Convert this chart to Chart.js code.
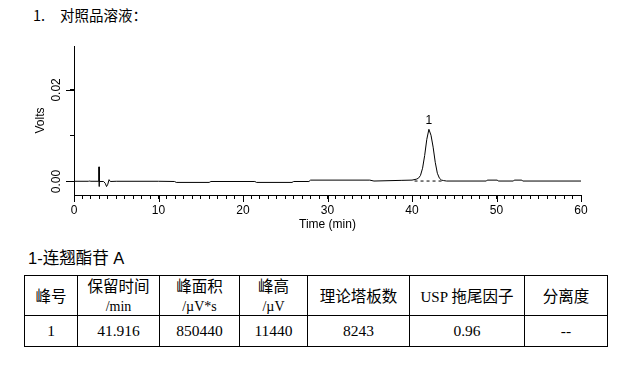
<!DOCTYPE html>
<html>
<head>
<meta charset="utf-8">
<script src="https://cdn.jsdelivr.net/npm/chart.js@4/dist/chart.umd.min.js"></script>
<style>
  body { margin: 0; background: #fff; width: 619px; height: 365px; position: relative; overflow: hidden; font-family: "Liberation Sans", Arial, sans-serif; color: #000; }
  #chart { position: absolute; left: 0; top: 0; }
  .head { position: absolute; top: 6px; font-size: 14.5px; font-family: "Noto Sans CJK SC", sans-serif; line-height: 18px; }
  #sub { position: absolute; left: 28px; top: 247px; font-size: 16.5px; line-height: 20px; }
  #sub .cjk { font-family: "Noto Sans CJK SC", sans-serif; }
  table { position: absolute; left: 24px; top: 275px; border-collapse: collapse; table-layout: fixed; }
  td { border: 1px solid #000; padding: 0; text-align: center; vertical-align: middle; }
  tr.hd td { height: 38px; font-family: "Noto Sans CJK SC", sans-serif; font-size: 15.5px; line-height: 19px; }
  tr.hd td .u { font-family: "Liberation Serif", "Times New Roman", serif; font-size: 14px; line-height: 17px; }
  tr.dt td { height: 30px; font-family: "Liberation Serif", "Times New Roman", serif; font-size: 15.5px; }
</style>
</head>
<body>
<div class="head" style="left:33px;">1.</div>
<div class="head" style="left:60px;">对照品溶液：</div>
<canvas id="chart" width="619" height="240"></canvas>
<div id="sub">1-<span class="cjk">连翘酯苷</span> A</div>
<table>
  <colgroup>
    <col style="width:53px"><col style="width:82px"><col style="width:80px"><col style="width:68px">
    <col style="width:102px"><col style="width:115px"><col style="width:83px">
  </colgroup>
  <tr class="hd">
    <td>峰号</td>
    <td>保留时间<br><span class="u">/min</span></td>
    <td>峰面积<br><span class="u">/µV*s</span></td>
    <td>峰高<br><span class="u">/µV</span></td>
    <td>理论塔板数</td>
    <td><span class="u" style="font-size:15px">USP</span> 拖尾因子</td>
    <td>分离度</td>
  </tr>
  <tr class="dt">
    <td>1</td><td>41.916</td><td>850440</td><td>11440</td><td>8243</td><td>0.96</td><td>--</td>
  </tr>
</table>
<script>
// chromatogram trace (min, volts)
const times = [0, 1.7, 1.8, 2.0, 2.9, 2.95, 2.96, 2.97, 3.0, 3.5, 3.7, 3.85, 4.0, 4.15, 4.3, 5, 10, 11.9, 12.1, 16, 16.2,
  21.4, 21.6, 25.8, 26, 27.8, 28, 35, 35.5, 38.8, 40.0, 40.5, 40.75, 41.0, 41.25, 41.5, 41.75, 42.0, 42.25, 42.5,
  42.75, 43.0, 43.25, 43.5, 43.75, 44.1, 48.8, 48.9, 50.1, 50.2, 52, 52.1, 53, 53.1, 60];
const volts = [0.00005, 0.00005, 0.0001, 0.00005, 0.00005, 0.0001, 0.0032, -0.0011, 0.0, 0.0, -0.0004, -0.0011, -0.0006, 0.0004, 0.0, 0.00005, 0.00005, 0.0, -0.0002, -0.0002, 0.0,
  0.0, -0.0002, -0.0002, 0.0, 0.0, 0.0003, 0.0003, 0.0001, 0.00025, 0.0003, 0.0005, 0.0007, 0.0013, 0.0029, 0.0057, 0.0092, 0.0114, 0.0101, 0.0075,
  0.0042, 0.0018, 0.0007, 0.0003, 0.0002, 0.0001, 0.0001, 0.0003, 0.0003, 0.0001, 0.0001, 0.0003, 0.0003, 0.0001, 0.0001];

// dashed integration baseline under peak 1
const baseTimes = [40.3, 43.7];
const baseVolts = [0.0001, 0.0001];

// peak annotation
const peakNames = ['1'];
const peakTimes = [42.0];
const peakVolts = [0.0114];

const xMin = 0, xMax = 60;
const yMin = -0.00295, yMax = 0.0296;
const yTickValues = [0, 0.01, 0.02];
const yLabelValues = [0, 0.02];
const yLabels = ['0.00', '0.02'];

const FONT = 'Liberation Sans';

// draws rotated y labels, longer major ticks and the peak number
const extras = {
  id: 'extras',
  afterDraw(chart) {
    const { ctx, scales: { x, y } } = chart;
    ctx.save();
    ctx.strokeStyle = '#000';
    ctx.lineWidth = 1;
    ctx.beginPath();
    for (let t = xMin; t <= xMax; t += 10) {
      const px = Math.round(x.getPixelForValue(t)) + 0.5;
      ctx.moveTo(px, chart.chartArea.bottom);
      ctx.lineTo(px, chart.chartArea.bottom + 7);
    }
    yLabelValues.forEach(v => {
      const py = Math.round(y.getPixelForValue(v)) + 0.5;
      ctx.moveTo(chart.chartArea.left - 8, py);
      ctx.lineTo(chart.chartArea.left, py);
    });
    ctx.stroke();

    ctx.fillStyle = '#000';
    ctx.font = '12px "' + FONT + '"';
    ctx.textAlign = 'center';
    ctx.textBaseline = 'middle';
    yLabelValues.forEach((v, i) => {
      ctx.save();
      ctx.translate(57, y.getPixelForValue(v));
      ctx.rotate(-Math.PI / 2);
      ctx.fillText(yLabels[i], 0, 0);
      ctx.restore();
    });

    peakNames.forEach((n, i) => {
      ctx.fillText(n, x.getPixelForValue(peakTimes[i]), y.getPixelForValue(peakVolts[i]) - 9);
    });
    ctx.restore();
  }
};

new Chart(document.getElementById('chart'), {
  type: 'line',
  data: {
    datasets: [{
      data: times.map((t, i) => ({ x: t, y: volts[i] })),
      borderColor: '#000',
      borderWidth: 1,
      pointRadius: 0,
      tension: 0,
      fill: false
    }, {
      data: baseTimes.map((t, i) => ({ x: t, y: baseVolts[i] })),
      borderColor: '#000',
      borderWidth: 1,
      borderDash: [3, 3],
      pointRadius: 0,
      fill: false
    }]
  },
  options: {
    responsive: false,
    animation: false,
    layout: { padding: { top: 46, right: 38, left: 0, bottom: 0 } },
    plugins: { legend: { display: false }, tooltip: { enabled: false } },
    scales: {
      x: {
        type: 'linear',
        min: xMin,
        max: xMax,
        afterFit: s => { s.height = 45; },
        border: { display: true, color: '#000', width: 1 },
        grid: { display: true, drawOnChartArea: false, tickLength: 4, color: '#000' },
        ticks: {
          stepSize: 1,
          autoSkip: false,
          maxRotation: 0,
          padding: 4,
          color: '#000',
          font: { family: FONT, size: 12 },
          callback: v => (v % 10 === 0 ? v : '')
        },
        title: { display: true, text: 'Time (min)', color: '#000', font: { family: FONT, size: 12 }, padding: { top: 0, bottom: 8 } }
      },
      y: {
        min: yMin,
        max: yMax,
        afterFit: s => { s.width = 74; },
        afterBuildTicks: s => { s.ticks = yTickValues.map(v => ({ value: v })); },
        border: { display: true, color: '#000', width: 1 },
        grid: { display: true, drawOnChartArea: false, tickLength: 4, color: '#000' },
        ticks: { display: false },
        title: { display: true, text: 'Volts', color: '#000', font: { family: FONT, size: 12 }, padding: { top: 33, bottom: 0 } }
      }
    }
  },
  plugins: [extras]
});
</script>
</body>
</html>
